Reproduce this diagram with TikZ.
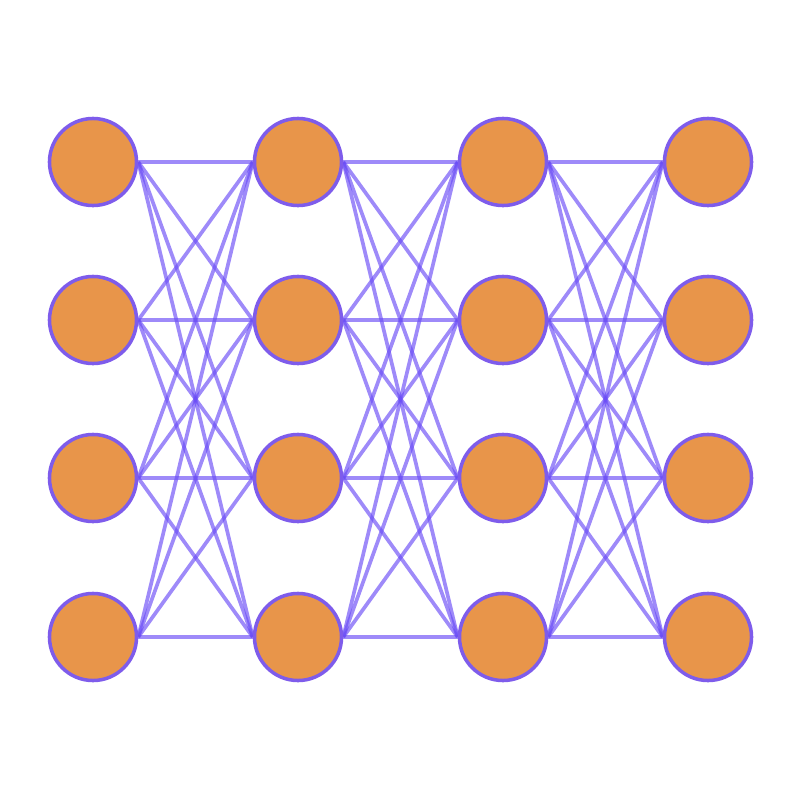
\documentclass[tikz,border=0pt]{standalone}
\usetikzlibrary{backgrounds}
\definecolor{nodefill}{HTML}{E8954A}
\definecolor{nodeborder}{HTML}{7E5CEB}
\definecolor{edgecol}{HTML}{6A4CF6}
\tikzset{
  neuron/.style={circle, fill=nodefill, draw=nodeborder, line width=1pt, minimum size=0.87cm, inner sep=0pt},
  link/.style={draw=edgecol, line width=1.05pt, opacity=0.65}
}
\begin{document}
\begin{tikzpicture}[x=0.01cm,y=-0.01cm]
\useasboundingbox (0,0) rectangle (800,800);
\foreach \c/\x in {1/93,2/298,3/503,4/708}{
  \foreach \r/\y in {1/162,2/320,3/478,4/637}{
    \node[neuron] (n\c\r) at (\x,\y) {};
  }
}
\begin{scope}[on background layer]
\foreach \c/\d in {1/2,2/3,3/4}{
  \foreach \r in {1,2,3,4}{
    \foreach \s in {1,2,3,4}{
      \draw[link] (n\c\r.east) -- (n\d\s.west);
    }
  }
}
\end{scope}
\end{tikzpicture}
\end{document}
